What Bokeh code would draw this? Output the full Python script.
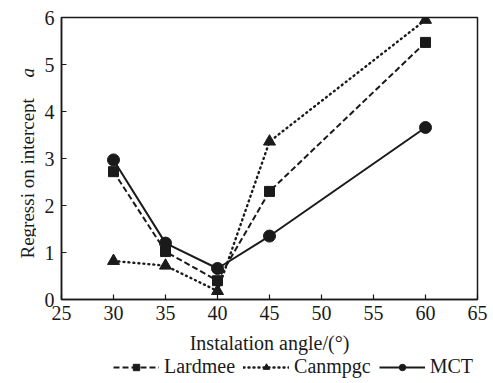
import math
from bokeh.plotting import figure
from bokeh.models import Legend, LegendItem, FixedTicker
from bokeh.layouts import row, column
from bokeh.core.properties import value
from bokeh.embed import file_html
from bokeh.resources import INLINE

angles = [30, 35, 40, 45, 60]
lardmee = [2.72, 1.02, 0.40, 2.30, 5.47]
canmpgc = [0.82, 0.72, 0.18, 3.36, 5.95]
mct = [2.97, 1.20, 0.66, 1.35, 3.66]

x_ticks = [25, 30, 35, 40, 45, 50, 55, 60, 65]
y_ticks = [0, 1, 2, 3, 4, 5, 6]

FONT = "Liberation Serif"
INK = "#1a1a1a"

# main plot
p = figure(frame_width=416, frame_height=282, output_backend="svg", toolbar_location=None,
           x_range=(25, 65), y_range=(0, 6),
           min_border_left=25, min_border_right=16, min_border_top=17, min_border_bottom=0)
p.grid.visible = False
p.outline_line_color = INK
p.outline_line_width = 1.5

for ax in (p.xaxis[0], p.yaxis[0]):
    ax.major_tick_in = 5
    ax.major_tick_out = 0
    ax.minor_tick_in = 0
    ax.minor_tick_out = 0
    ax.axis_line_color = INK
    ax.axis_line_width = 1.5
    ax.major_tick_line_color = INK
    ax.major_tick_line_width = 1.2
    ax.major_label_text_font = FONT
    ax.major_label_text_font_size = "20px"
    ax.major_label_text_color = INK

p.xaxis.ticker = FixedTicker(ticks=x_ticks)
p.yaxis.ticker = FixedTicker(ticks=y_ticks)
p.xaxis.major_label_standoff = 6
p.yaxis.major_label_standoff = 7
p.xaxis.axis_label = "Instalation angle/(°)"
p.xaxis.axis_label_text_font = FONT
p.xaxis.axis_label_text_font_size = "20px"
p.xaxis.axis_label_text_font_style = "normal"
p.xaxis.axis_label_text_color = INK
p.xaxis.axis_label_standoff = 9

lw = 2
l1 = p.line(angles, lardmee, line_color=INK, line_width=lw, line_dash="6 3")
m1 = p.scatter(angles, lardmee, marker="square", size=10, color=INK)
l2 = p.line(angles, canmpgc, line_color=INK, line_width=2.4, line_dash="1 4", line_cap="round")
m2 = p.scatter(angles, canmpgc, marker="triangle", size=12, color=INK)
l3 = p.line(angles, mct, line_color=INK, line_width=lw)
m3 = p.scatter(angles, mct, marker="circle", size=12, color=INK)

# y-axis title strip (with italic "a")
pl = figure(width=36, height=383, output_backend="svg", toolbar_location=None,
            x_range=(0, 36), y_range=(0, 383), x_axis_type=None, y_axis_type=None,
            min_border=0)
pl.grid.visible = False
pl.outline_line_color = None
pl.text(x=[27], y=[125], text=["Regressi on intercept"], angle=math.pi / 2,
        text_align="left", text_baseline="middle", text_font=value(FONT),
        text_font_size="19px", text_color=INK)
pl.text(x=[27], y=[306], text=["a"], angle=math.pi / 2, text_font_style="italic",
        text_align="left", text_baseline="middle", text_font=value(FONT),
        text_font_size="19px", text_color=INK)

# legend strip (series drawn outside its visible range; only the legend shows)
pg = figure(width=457, height=28, output_backend="svg", toolbar_location=None,
            x_range=(0, 1), y_range=(100, 101), x_axis_type=None, y_axis_type=None,
            min_border=0)
pg.grid.visible = False
pg.outline_line_color = None
g1 = pg.line(angles, lardmee, line_color=INK, line_width=lw, line_dash="6 3")
s1 = pg.scatter(angles, lardmee, marker="square", size=10, color=INK)
g2 = pg.line(angles, canmpgc, line_color=INK, line_width=2.4, line_dash="1 4", line_cap="round")
s2 = pg.scatter(angles, canmpgc, marker="triangle", size=12, color=INK)
g3 = pg.line(angles, mct, line_color=INK, line_width=lw)
s3 = pg.scatter(angles, mct, marker="circle", size=12, color=INK)

legend = Legend(items=[
    LegendItem(label="Lardmee", renderers=[g1, s1]),
    LegendItem(label="Canmpgc", renderers=[g2, s2]),
    LegendItem(label="MCT", renderers=[g3, s3]),
], orientation="horizontal", location=(52, 6),
    label_text_font=FONT, label_text_font_size="20px", label_text_color=INK,
    glyph_width=46, glyph_height=16, spacing=8, label_standoff=5,
    border_line_color=None, background_fill_alpha=0, padding=0, margin=0)
pg.add_layout(legend)

layout = row(pl, column(p, pg, spacing=0), spacing=0)
open("out.html", "w").write(file_html(layout, INLINE))
